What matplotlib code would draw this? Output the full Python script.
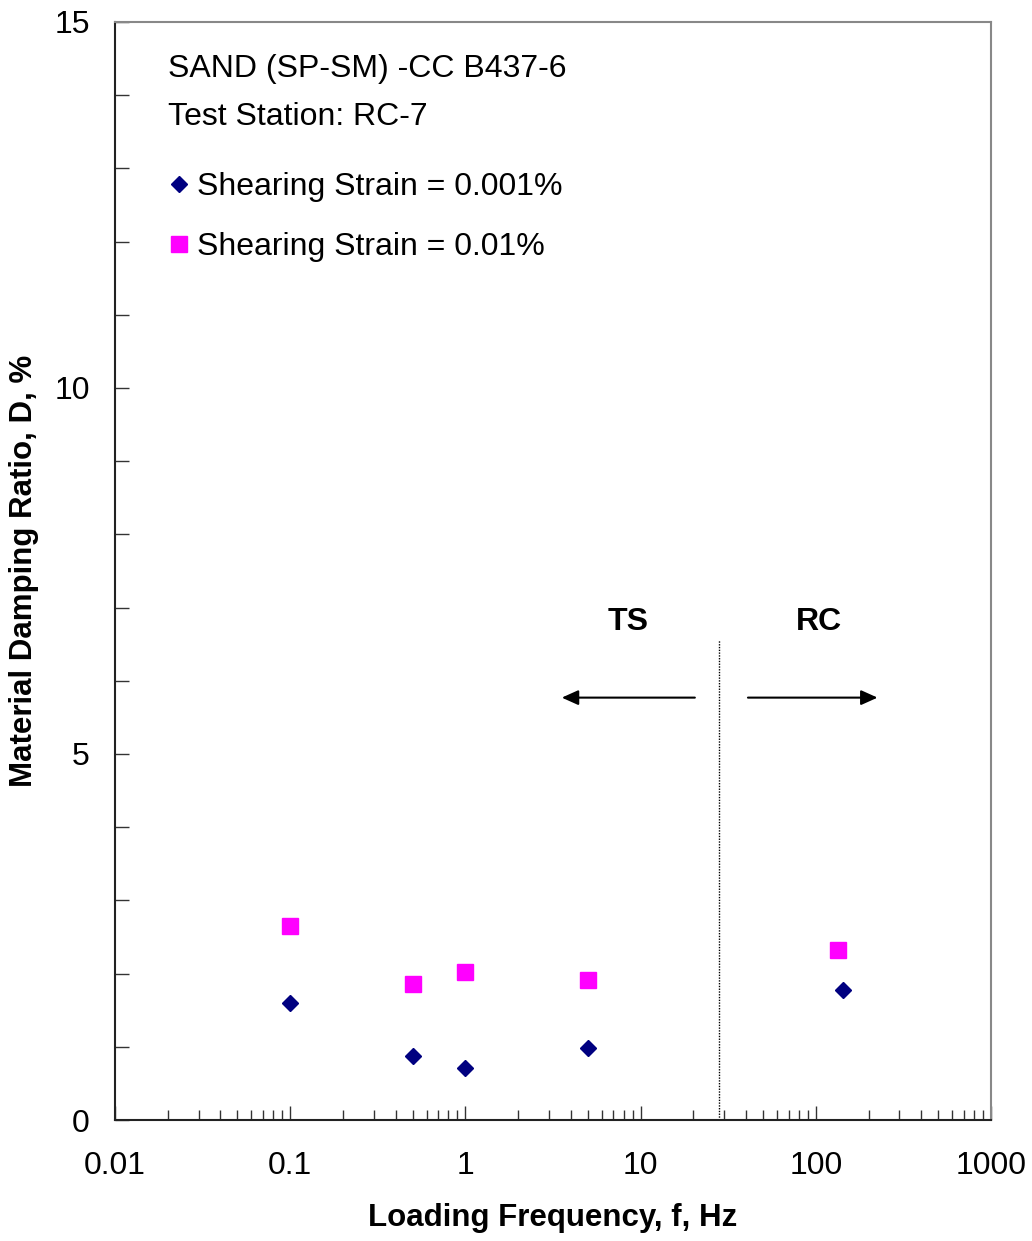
import matplotlib.pyplot as plt
from matplotlib.ticker import MultipleLocator, LogLocator, NullFormatter

plt.rcParams["font.family"] = ["Liberation Sans", "DejaVu Sans"]

# loading frequency (Hz) and damping ratio (%)
freq_lo = [0.1, 0.5, 1.0, 5.0, 143]
damp_lo = [1.60, 0.87, 0.71, 0.98, 1.78]   # strain = 0.001%
freq_hi = [0.1, 0.5, 1.0, 5.0, 134]
damp_hi = [2.65, 1.86, 2.02, 1.91, 2.32]   # strain = 0.01%

NAVY = "#000080"
MAGENTA = "#FF00FF"
FS = 23

fig = plt.figure(figsize=(10.32, 12.41), dpi=100)
ax = fig.add_axes([0.1114, 0.0975, 0.8489, 0.8848])

ax.plot(freq_lo, damp_lo, linestyle="none", marker="D", markersize=8.6,
        color=NAVY, markeredgecolor=NAVY, zorder=3)
ax.plot(freq_hi, damp_hi, linestyle="none", marker="s", markersize=11,
        color=MAGENTA, markeredgecolor=MAGENTA, zorder=3)

ax.set_xscale("log")
ax.set_xlim(0.01, 1000)
ax.set_ylim(0, 15)

ax.yaxis.set_major_locator(MultipleLocator(5))
ax.yaxis.set_minor_locator(MultipleLocator(1))
ax.xaxis.set_minor_locator(LogLocator(base=10, subs=range(2, 10), numticks=10))
ax.xaxis.set_minor_formatter(NullFormatter())
ax.set_xticks([0.01, 0.1, 1, 10, 100, 1000])
ax.set_xticklabels(["0.01", "0.1", "1", "10", "100", "1000"])
ax.set_yticks([0, 5, 10, 15])
ax.set_yticklabels(["0", "5", "10", "15"])

ax.tick_params(which="both", direction="in", labelsize=FS, width=1, color="#333333")
ax.tick_params(axis="y", which="both", length=10, pad=18)
ax.tick_params(axis="x", which="major", length=10, pad=22)
ax.tick_params(axis="x", which="minor", length=7)

for side in ["left", "bottom"]:
    ax.spines[side].set_color("#222222")
    ax.spines[side].set_linewidth(1.5)
for side in ["top", "right"]:
    ax.spines[side].set_color("#888888")
    ax.spines[side].set_linewidth(1.5)

ax.set_xlabel("Loading Frequency, f, Hz", fontsize=22.5, fontweight="bold", labelpad=16)
ax.set_ylabel("Material Damping Ratio, D, %", fontsize=22.5, fontweight="bold", labelpad=11)

# boundary between torsional shear and resonant column tests
ax.plot([28, 28], [0, 6.56], linestyle=(0, (1, 1)), color="black", linewidth=1)
ax.text(8.5, 6.80, "TS", fontsize=FS, fontweight="bold", ha="center", va="center")
ax.text(104, 6.80, "RC", fontsize=FS, fontweight="bold", ha="center", va="center")
arrow = dict(arrowstyle="-|>,head_length=1.0,head_width=0.45", color="black", lw=1.5,
             shrinkA=0, shrinkB=0)
ax.annotate("", xy=(3.55, 5.77), xytext=(20.4, 5.77), arrowprops=arrow)
ax.annotate("", xy=(225, 5.77), xytext=(41, 5.77), arrowprops=arrow)

# header and legend text
ax.text(0.0605, 0.957, "SAND (SP-SM) -CC B437-6", transform=ax.transAxes,
        fontsize=FS, va="center", ha="left")
ax.text(0.0605, 0.913, "Test Station: RC-7", transform=ax.transAxes,
        fontsize=FS, va="center", ha="left")
ax.plot([0.073], [0.852], transform=ax.transAxes, marker="D", markersize=8.6,
        color=NAVY, linestyle="none", clip_on=False)
ax.text(0.0936, 0.850, "Shearing Strain = 0.001%", transform=ax.transAxes,
        fontsize=FS, va="center", ha="left")
ax.plot([0.073], [0.798], transform=ax.transAxes, marker="s", markersize=11,
        color=MAGENTA, linestyle="none", clip_on=False)
ax.text(0.0936, 0.795, "Shearing Strain = 0.01%", transform=ax.transAxes,
        fontsize=FS, va="center", ha="left")

fig.savefig("out.png", dpi=100)
